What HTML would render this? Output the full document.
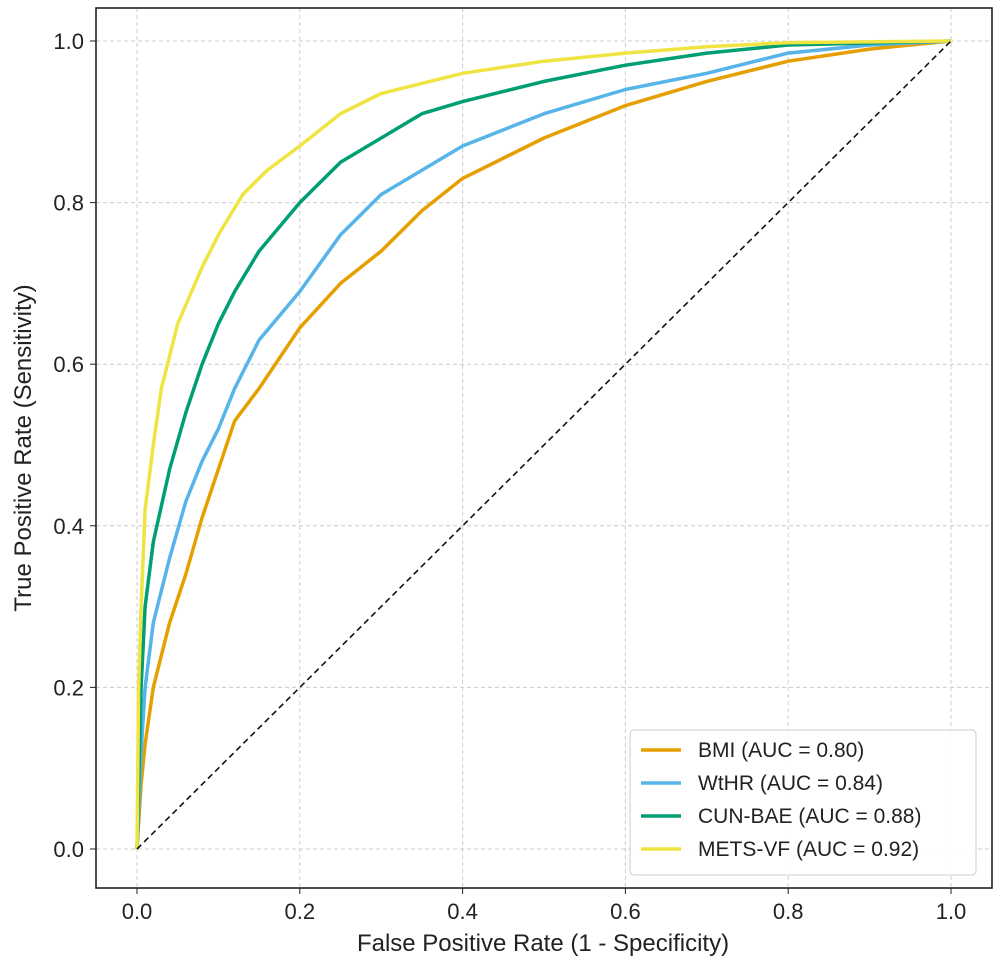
<!DOCTYPE html>
<html><head><meta charset="utf-8"><style>
html,body{margin:0;padding:0;background:#fff;}
svg{display:block;font-family:"Liberation Sans","DejaVu Sans",sans-serif;}
</style></head><body>
<svg id="chart" width="1000" height="966" viewBox="0 0 1000 966">
<g id="grid"></g>
<g id="curves"></g>
<rect x="96" y="8" width="896" height="880" fill="none" stroke="#222" stroke-width="1.6"/>
<g id="ticks"></g>
<text x="543" y="951" font-size="24" text-anchor="middle" fill="#222">False Positive Rate (1 - Specificity)</text>
<text transform="translate(31,448) rotate(-90)" font-size="24" text-anchor="middle" fill="#222">True Positive Rate (Sensitivity)</text>
<g id="legend"></g>
</svg>
<script>
const ticks=[0,0.2,0.4,0.6,0.8,1.0];
const tickLabels=["0.0","0.2","0.4","0.6","0.8","1.0"];
const seriesNames=["BMI (AUC = 0.80)","WtHR (AUC = 0.84)","CUN-BAE (AUC = 0.88)","METS-VF (AUC = 0.92)"];
const seriesColors=["#e69f00","#56b4e9","#009e73","#f0e442"];
const bmiFpr=[0,0.005,0.01,0.02,0.04,0.06,0.08,0.1,0.12,0.15,0.2,0.25,0.3,0.35,0.4,0.5,0.6,0.7,0.8,0.9,1];
const bmiTpr=[0,0.08,0.13,0.2,0.28,0.34,0.41,0.47,0.53,0.57,0.645,0.7,0.74,0.79,0.83,0.88,0.92,0.95,0.975,0.99,1];
const wthrFpr=[0,0.005,0.01,0.02,0.04,0.06,0.08,0.1,0.12,0.15,0.2,0.25,0.3,0.35,0.4,0.5,0.6,0.7,0.8,0.9,1];
const wthrTpr=[0,0.12,0.2,0.28,0.36,0.43,0.48,0.52,0.57,0.63,0.69,0.76,0.81,0.84,0.87,0.91,0.94,0.96,0.985,0.995,1];
const cunFpr=[0,0.005,0.01,0.02,0.04,0.06,0.08,0.1,0.12,0.15,0.2,0.25,0.3,0.35,0.4,0.5,0.6,0.7,0.8,1];
const cunTpr=[0,0.2,0.3,0.38,0.47,0.54,0.6,0.65,0.69,0.74,0.8,0.85,0.88,0.91,0.925,0.95,0.97,0.985,0.995,1];
const metsFpr=[0,0.002,0.005,0.01,0.02,0.03,0.05,0.08,0.1,0.13,0.16,0.2,0.25,0.3,0.4,0.5,0.6,0.7,0.8,1];
const metsTpr=[0,0.2,0.3,0.42,0.5,0.57,0.65,0.72,0.76,0.81,0.84,0.87,0.91,0.935,0.96,0.975,0.985,0.993,0.998,1];
const NS="http://www.w3.org/2000/svg";
const X0=137,X1=951,Y0=849,Y1=41;
const sx=v=>X0+(X1-X0)*v, sy=v=>Y0-(Y0-Y1)*v;
function mk(tag,attrs,parent){const e=document.createElementNS(NS,tag);for(const k in attrs)e.setAttribute(k,attrs[k]);parent.appendChild(e);return e;}
const grid=document.getElementById('grid'),tk=document.getElementById('ticks');
ticks.forEach((t,i)=>{
 let g=mk('line',{x1:sx(t),x2:sx(t),y1:8,y2:888,stroke:'#ccc','stroke-dasharray':'4,3','stroke-width':1},grid);
 
 
 g=mk('line',{x1:96,x2:992,y1:sy(t),y2:sy(t),stroke:'#ccc','stroke-dasharray':'4,3','stroke-width':1},grid);
 
 
 mk('line',{x1:sx(t),x2:sx(t),y1:888,y2:894,stroke:'#222'},tk);
 mk('line',{x1:90,x2:96,y1:sy(t),y2:sy(t),stroke:'#222'},tk);
 let a=mk('text',{x:sx(t),y:919,'font-size':22,'text-anchor':'middle',fill:'#222'},tk);a.textContent=tickLabels[i];
 
 
 a=mk('text',{x:84,y:sy(t)+8,'font-size':22,'text-anchor':'end',fill:'#222'},tk);a.textContent=tickLabels[i];
 
 
});
const curves=document.getElementById('curves');
const data=[[bmiFpr,bmiTpr],[wthrFpr,wthrTpr],[cunFpr,cunTpr],[metsFpr,metsTpr]];
const keys=['bmi','wthr','cun-bae','mets-vf'];
data.forEach((d,i)=>{
 const pts=d[0].map((f,j)=>sx(f).toFixed(1)+','+sy(d[1][j]).toFixed(1)).join(' ');
 const p=mk('polyline',{points:pts,fill:'none',stroke:seriesColors[i],'stroke-width':3.5,'stroke-linejoin':'round'},curves);
 
 
});
const diag=mk('line',{x1:sx(0),y1:sy(0),x2:sx(1),y2:sy(1),stroke:'#111','stroke-width':1.6,'stroke-dasharray':'6,4'},curves);


const lg=document.getElementById('legend');
const box=mk('rect',{x:630,y:730,width:346,height:145,rx:4,fill:'#fff','fill-opacity':0.9,stroke:'#ccc'},lg);


seriesNames.forEach((n,i)=>{
 const y=750+i*33;
 const g=mk('g',{},lg);
 
 
 mk('line',{x1:641,x2:681,y1:y,y2:y,stroke:seriesColors[i],'stroke-width':3.5},g);
 const t=mk('text',{x:698,y:y+7,'font-size':21,fill:'#222'},g);t.textContent=n;
});
</script>
</body></html>
